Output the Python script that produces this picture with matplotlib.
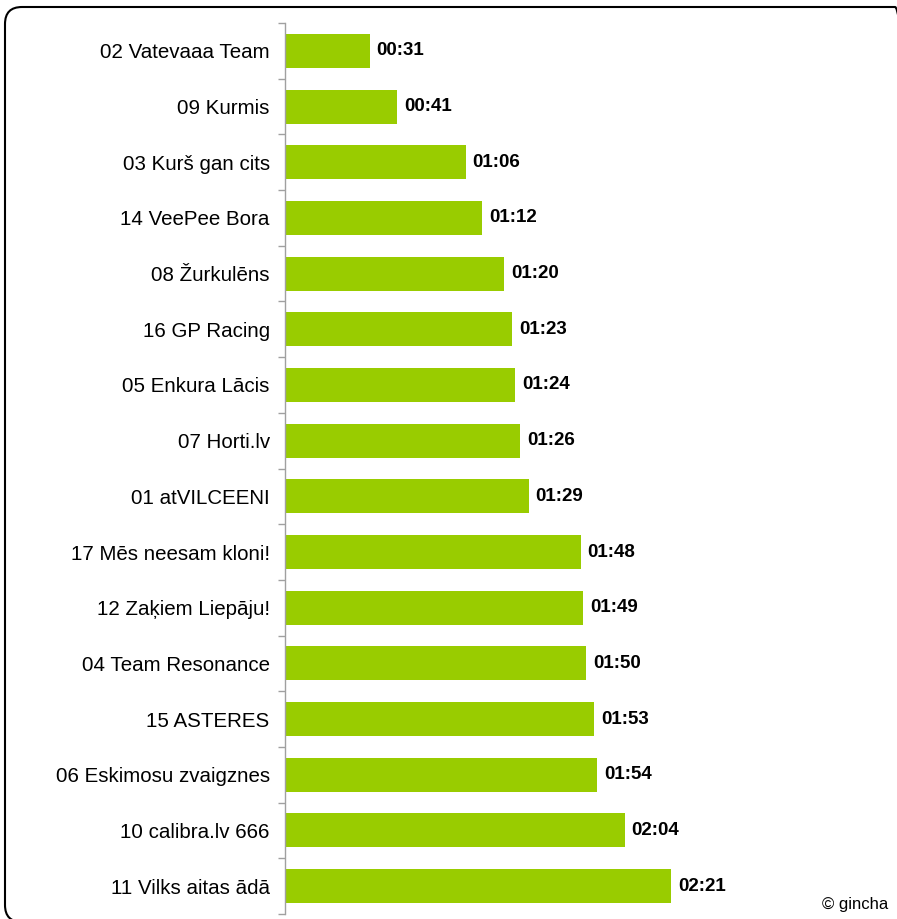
import numpy as np
import matplotlib.pyplot as plt
from matplotlib.patches import FancyBboxPatch

# komandas un laiki (sekundes)
komandas = ["02 Vatevaaa Team", "09 Kurmis", "03 Kurš gan cits", "14 VeePee Bora",
            "08 Žurkulēns", "16 GP Racing", "05 Enkura Lācis", "07 Horti.lv",
            "01 atVILCEENI", "17 Mēs neesam kloni!", "12 Zaķiem Liepāju!",
            "04 Team Resonance", "15 ASTERES", "06 Eskimosu zvaigznes",
            "10 calibra.lv 666", "11 Vilks aitas ādā"]
laiki = [31, 41, 66, 72, 80, 83, 84, 86, 89, 108, 109, 110, 113, 114, 124, 141]
etiketes = ["00:31", "00:41", "01:06", "01:12", "01:20", "01:23", "01:24", "01:26",
            "01:29", "01:48", "01:49", "01:50", "01:53", "01:54", "02:04", "02:21"]

plt.rcParams['font.family'] = ['Liberation Sans', 'DejaVu Sans']

fig = plt.figure(figsize=(8.97, 9.19), dpi=100)

# noapaļotais rāmis collās (nogriezts labajā un apakšējā malā)
ramis = FancyBboxPatch((0.05, -0.03), 9.07, 9.15,
                       boxstyle="round,pad=0,rounding_size=0.17",
                       transform=fig.dpi_scale_trans, fill=False,
                       edgecolor='black', linewidth=1.5, zorder=0)
fig.patches.append(ramis)

ax = fig.add_axes([285/897, 1 - 914/919, 575/897, 891/919])
ax.patch.set_alpha(0)

y = np.arange(len(komandas))
ax.barh(y, laiki, height=0.61, color='#99CC00')

for i in range(len(laiki)):
    ax.text(laiki[i] + 2.5, y[i], etiketes[i], va='center', ha='left',
            fontsize=13.5, fontweight='bold')

ax.set_ylim(len(komandas) - 0.5, -0.5)
ax.set_xlim(0, 210)

ax.set_yticks(y)
ax.set_yticklabels(komandas, fontsize=14.8)
ax.tick_params(axis='y', which='major', length=0, pad=11)
ax.set_yticks(np.arange(len(komandas) + 1) - 0.5, minor=True)
ax.tick_params(axis='y', which='minor', length=5, color='#A0A0A0', width=1)
ax.set_xticks([])

for s in ['top', 'right', 'bottom']:
    ax.spines[s].set_visible(False)
ax.spines['left'].set_color('#A0A0A0')
ax.spines['left'].set_linewidth(1)

fig.text(888/897, 1 - 905/919, "© gincha", ha='right', va='center', fontsize=12)

plt.savefig("out.png", dpi=100)
